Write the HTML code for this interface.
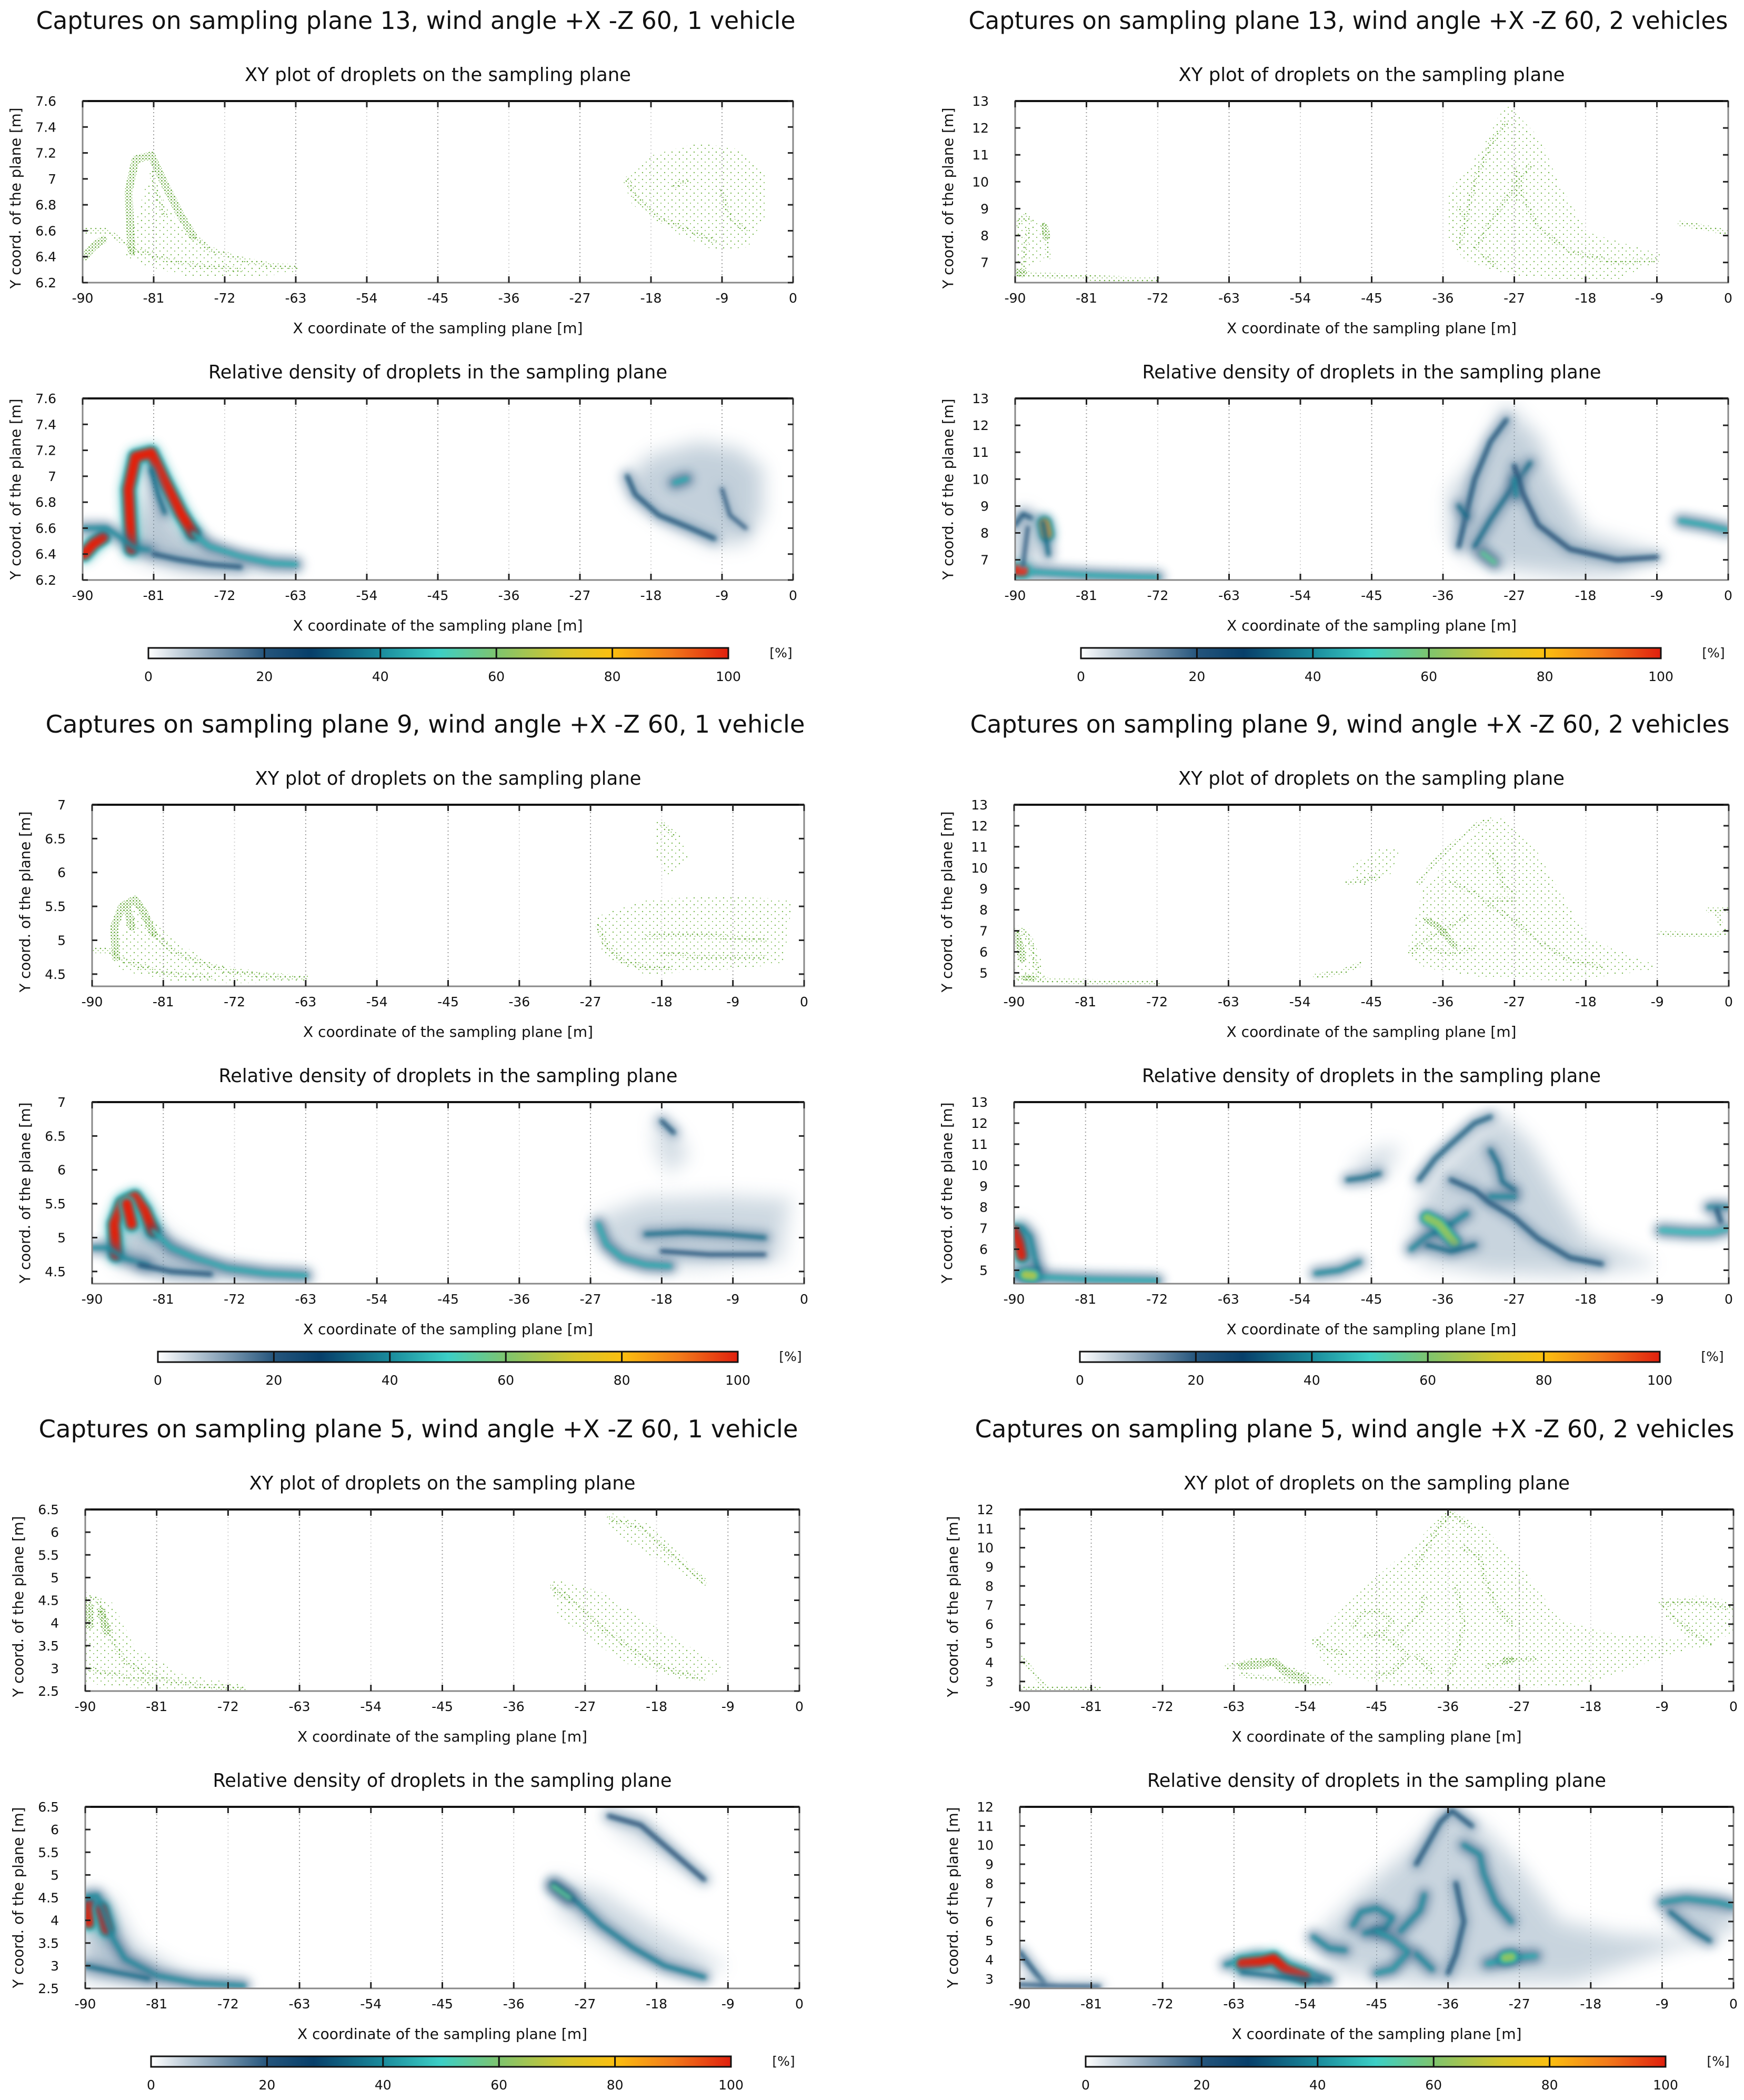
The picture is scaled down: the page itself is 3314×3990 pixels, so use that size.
<!DOCTYPE html>
<html><head><meta charset="utf-8"><title>Droplet captures</title>
<style>
html,body{margin:0;padding:0;background:#fff}
svg{display:block}
text{font-family:"DejaVu Sans","Liberation Sans",sans-serif;fill:#111}
</style></head>
<body>
<svg id="fig" xmlns="http://www.w3.org/2000/svg" width="3314" height="3990" viewBox="0 0 3314 3990">
<defs>
<pattern id="dotsDense" patternUnits="userSpaceOnUse" width="6" height="6"><circle cx="1.5" cy="1.5" r="1.4" fill="#5fa533"/><circle cx="4.5" cy="4.2" r="1" fill="#7ab850"/></pattern>
<pattern id="dotsMid" patternUnits="userSpaceOnUse" width="9" height="9"><circle cx="2" cy="2" r="1.3" fill="#66aa3a"/><circle cx="6.5" cy="6" r="1" fill="#86c060"/></pattern>
<pattern id="dotsSparse" patternUnits="userSpaceOnUse" width="14" height="13"><circle cx="3" cy="3" r="1.2" fill="#7ab850"/><circle cx="10" cy="9" r="1.1" fill="#8cc466"/></pattern>
<filter id="blurS" filterUnits="userSpaceOnUse" x="0" y="0" width="3314" height="3990"><feGaussianBlur stdDeviation="4"/></filter>
<filter id="blurM" filterUnits="userSpaceOnUse" x="0" y="0" width="3314" height="3990"><feGaussianBlur stdDeviation="9"/></filter>
<filter id="blurL" filterUnits="userSpaceOnUse" x="0" y="0" width="3314" height="3990"><feGaussianBlur stdDeviation="16"/></filter>
<linearGradient id="cmap" x1="0" x2="1" y1="0" y2="0">
<stop offset="0" stop-color="#ffffff"/><stop offset="0.2" stop-color="#25557c"/><stop offset="0.28" stop-color="#073f6a"/><stop offset="0.4" stop-color="#1a8b9c"/><stop offset="0.5" stop-color="#3ccfc6"/><stop offset="0.6" stop-color="#7ec46e"/><stop offset="0.72" stop-color="#d8c62a"/><stop offset="0.8" stop-color="#fbbf10"/><stop offset="0.9" stop-color="#f27a1a"/><stop offset="1" stop-color="#e0200e"/>
</linearGradient>
</defs>
</svg>
<script>
const xTicks = [-90,-81,-72,-63,-54,-45,-36,-27,-18,-9,0];
const cbTicks = [0,20,40,60,80,100];

const panelA_title = "Captures on sampling plane 13, wind angle +X -Z 60, 1 vehicle";
const panelA_yrange = [6.2, 7.6];
const panelA_yticks = [6.2,6.4,6.6,6.8,7,7.2,7.4,7.6];
const panelA_ylabels = ["6.2","6.4","6.6","6.8","7","7.2","7.4","7.6"];
const panelA_areas = [
 {lv:14, pts:[[-84,6.42],[-81.5,6.95],[-78,6.62],[-72,6.36],[-66,6.31],[-63,6.3],[-70,6.27],[-77,6.28],[-82,6.36]]},
 {lv:12, pts:[[-21,6.98],[-18,7.15],[-12,7.25],[-7,7.2],[-4,7.05],[-4,6.72],[-6,6.5],[-10,6.48],[-15,6.62],[-20,6.82]]}
];
const panelA_ridges = [
 {lv:100, pts:[[-83.8,6.44],[-84.2,6.9],[-83.3,7.15],[-81.3,7.18],[-79.6,6.96],[-77.6,6.72],[-76,6.56]]},
 {lv:45, pts:[[-76,6.56],[-74,6.46],[-70,6.38],[-66,6.33],[-63,6.32]]},
 {lv:100, pts:[[-89.8,6.4],[-88.6,6.48],[-87.4,6.53]]},
 {lv:40, pts:[[-90,6.6],[-87,6.6],[-85,6.52],[-83.5,6.45],[-81.5,6.43]]},
 {lv:35, pts:[[-81.3,7.05],[-80.4,6.85],[-79.6,6.72]]},
 {lv:30, pts:[[-81,6.4],[-78,6.36],[-74,6.32],[-70,6.3]]},
 {lv:30, pts:[[-21,7.0],[-20,6.86],[-17,6.7],[-13,6.6],[-10,6.52]]},
 {lv:45, pts:[[-15,6.95],[-13.5,6.98]]},
 {lv:20, pts:[[-9,6.9],[-8,6.7],[-6,6.6]]}
];

const panelB_title = "Captures on sampling plane 13, wind angle +X -Z 60, 2 vehicles";
const panelB_yrange = [6.25, 13];
const panelB_yticks = [7,8,9,10,11,12,13];
const panelB_ylabels = ["7","8","9","10","11","12","13"];
const panelB_areas = [
 {lv:12, pts:[[-35,9.5],[-31,11],[-28,12.7],[-24,11.5],[-22,10],[-18,8],[-9,7.2],[-14,6.5],[-20,6.45],[-28,6.7],[-33,7.2],[-35,8]]},
 {lv:12, pts:[[-90,8.4],[-89,8.8],[-87.5,8.5],[-86.8,7.2],[-88.5,6.9],[-90,7]]}
];
const panelB_ridges = [
 {lv:45, pts:[[-90,6.6],[-86,6.52],[-80,6.42],[-74,6.36],[-72,6.35]]},
 {lv:100, pts:[[-89.8,6.62],[-89,6.6]]},
 {lv:30, pts:[[-90,8.3],[-89,8.7],[-88,8.55]]},
 {lv:85, pts:[[-86.3,8.35],[-86,7.95]]},
 {lv:35, pts:[[-86.5,8.4],[-86,7.6],[-85.8,7.2]]},
 {lv:20, pts:[[-88.4,8.2],[-88.8,7.3],[-89,6.8]]},
 {lv:30, pts:[[-34,7.5],[-33,8.8],[-32,10],[-30,11.4],[-28,12.2]]},
 {lv:35, pts:[[-32,7.5],[-30,8.5],[-27,9.8],[-25,10.6]]},
 {lv:28, pts:[[-27,10.5],[-26,9.5],[-24,8.3],[-20,7.4],[-14,7.0],[-9,7.1]]},
 {lv:55, pts:[[-31,7.25],[-29.5,6.9]]},
 {lv:40, pts:[[-27,10],[-26.8,9.4]]},
 {lv:35, pts:[[-34,9],[-33,8.6]]},
 {lv:45, pts:[[-6,8.45],[-3,8.3],[0,8.1]]}
];

const panelC_title = "Captures on sampling plane 9, wind angle +X -Z 60, 1 vehicle";
const panelC_yrange = [4.32, 7];
const panelC_yticks = [4.5,5,5.5,6,6.5,7];
const panelC_ylabels = ["4.5","5","5.5","6","6.5","7"];
const panelC_areas = [
 {lv:14, pts:[[-87,4.8],[-84,5.5],[-81,5.05],[-75,4.6],[-68,4.47],[-63,4.44],[-72,4.42],[-80,4.45],[-86,4.6]]},
 {lv:10, pts:[[-26,5.3],[-20,5.55],[-10,5.6],[-2,5.55],[-3,4.7],[-12,4.6],[-20,4.55],[-25,4.8]]},
 {lv:10, pts:[[-18.5,6.75],[-16,6.5],[-15,6.2],[-17,6.0],[-18.5,6.3]]}
];
const panelC_ridges = [
 {lv:100, pts:[[-87,4.75],[-87.2,5.2],[-86.2,5.5],[-84.6,5.6],[-83.4,5.4],[-82.3,5.1]]},
 {lv:100, pts:[[-85.6,5.5],[-85,5.2]]},
 {lv:45, pts:[[-82.3,5.1],[-80,4.85],[-77,4.7],[-73,4.55],[-68,4.47],[-63,4.44]]},
 {lv:40, pts:[[-90,4.85],[-88,4.85],[-86,4.7],[-83,4.6]]},
 {lv:30, pts:[[-84,4.6],[-80,4.5],[-75,4.46]]},
 {lv:45, pts:[[-26,5.2],[-25,4.9],[-23,4.7],[-20,4.6],[-17,4.58]]},
 {lv:35, pts:[[-20,5.05],[-15,5.08],[-10,5.05],[-5,5.0]]},
 {lv:25, pts:[[-18,4.8],[-12,4.75],[-5,4.75]]},
 {lv:30, pts:[[-18,6.72],[-16.5,6.55]]}
];

const panelD_title = "Captures on sampling plane 9, wind angle +X -Z 60, 2 vehicles";
const panelD_yrange = [4.36, 13];
const panelD_yticks = [5,6,7,8,9,10,11,12,13];
const panelD_ylabels = ["5","6","7","8","9","10","11","12","13"];
const panelD_areas = [
 {lv:11, pts:[[-40,6],[-38,9],[-32,11.5],[-28.5,12.3],[-25,11],[-22,9],[-18,6.5],[-10,5.3],[-20,4.8],[-30,4.9],[-38,5.4]]},
 {lv:12, pts:[[-90,7.1],[-88.5,7],[-87,5.5],[-86.5,4.8],[-90,4.6]]},
 {lv:10, pts:[[-47,10],[-44,10.7],[-42,10.8],[-43,9.8],[-46,9.3]]}
];
const panelD_ridges = [
 {lv:100, pts:[[-89.8,6.85],[-89.3,6.3],[-89,5.7]]},
 {lv:40, pts:[[-89,7],[-88,6.6],[-87.4,5.6],[-87,5.0]]},
 {lv:45, pts:[[-90,4.8],[-86,4.66],[-80,4.56],[-72,4.5]]},
 {lv:65, pts:[[-88.6,4.78],[-87.6,4.74]]},
 {lv:40, pts:[[-52,4.85],[-49,5.0],[-46.5,5.4]]},
 {lv:35, pts:[[-48,9.3],[-46,9.4],[-44,9.6]]},
 {lv:32, pts:[[-39,9.3],[-37,10.3],[-35,11.0],[-32,12.0],[-30,12.3]]},
 {lv:40, pts:[[-40,6.0],[-38,6.6],[-35,7.2],[-33,7.7]]},
 {lv:62, pts:[[-38,7.5],[-36.5,7.2],[-35,6.5],[-34.5,6.3]]},
 {lv:35, pts:[[-38,6.2],[-35,5.9],[-32,6.2]]},
 {lv:35, pts:[[-30,10.7],[-29,10],[-28.5,9.2],[-27,8.8]]},
 {lv:30, pts:[[-35,9.3],[-32,8.8],[-30,8.2],[-27,7.5],[-24,6.5],[-20,5.6],[-16,5.3]]},
 {lv:40, pts:[[-30,8.5],[-27,8.5]]},
 {lv:48, pts:[[-8.5,6.9],[-5,6.8],[-2,6.8],[0,7.0]]},
 {lv:40, pts:[[-2.5,8.0],[0,8.0]]},
 {lv:30, pts:[[-1.5,7.9],[-1,7.3]]}
];

const panelE_title = "Captures on sampling plane 5, wind angle +X -Z 60, 1 vehicle";
const panelE_yrange = [2.5, 6.5];
const panelE_yticks = [2.5,3,3.5,4,4.5,5,5.5,6,6.5];
const panelE_ylabels = ["2.5","3","3.5","4","4.5","5","5.5","6","6.5"];
const panelE_areas = [
 {lv:15, pts:[[-90,4.6],[-87,4.4],[-84,3.4],[-78,2.8],[-70,2.55],[-80,2.58],[-90,2.75]]},
 {lv:10, pts:[[-31,4.9],[-25,4.6],[-18,3.8],[-10,3.0],[-14,2.8],[-22,3.2],[-30,4.2]]},
 {lv:8, pts:[[-24,6.35],[-19,6.1],[-14,5.2],[-12,4.9],[-17,5.4],[-23,6.0]]}
];
const panelE_ridges = [
 {lv:100, pts:[[-89.5,4.35],[-89.5,3.95]]},
 {lv:100, pts:[[-88,4.25],[-87.3,3.8]]},
 {lv:40, pts:[[-90,4.5],[-88.5,4.55],[-87.5,4.1],[-86.5,3.6],[-85,3.15],[-81,2.78],[-76,2.62],[-70,2.56]]},
 {lv:35, pts:[[-90,3.0],[-86,2.85],[-82,2.72]]},
 {lv:38, pts:[[-31,4.8],[-28,4.4],[-25,3.9],[-21,3.4],[-17,3.0],[-12,2.75]]},
 {lv:55, pts:[[-31,4.75],[-29,4.5]]},
 {lv:28, pts:[[-24,6.3],[-20,6.1],[-16,5.5],[-12,4.9]]}
];

const panelF_title = "Captures on sampling plane 5, wind angle +X -Z 60, 2 vehicles";
const panelF_yrange = [2.5, 12];
const panelF_yticks = [3,4,5,6,7,8,9,10,11,12];
const panelF_ylabels = ["3","4","5","6","7","8","9","10","11","12"];
const panelF_areas = [
 {lv:11, pts:[[-53,5],[-47,7.5],[-40,10],[-36,11.8],[-32,11],[-27,8.8],[-22,6],[-15,5.3],[-5,5],[-20,2.9],[-40,2.8],[-50,3.5]]},
 {lv:12, pts:[[-9,7.2],[-4,7.3],[0,7],[0,5.8],[-4,4.9],[-8,6.3]]}
];
const panelF_ridges = [
 {lv:30, pts:[[-90,4.4],[-88,3.3],[-87,2.8]]},
 {lv:22, pts:[[-90,2.7],[-85,2.62],[-80,2.6]]},
 {lv:40, pts:[[-64,3.75],[-60,4.15],[-55,3.5],[-51,2.95]]},
 {lv:100, pts:[[-62,3.8],[-59.5,3.9],[-58,4.05],[-56.5,3.5],[-54,3.1]]},
 {lv:35, pts:[[-62,3.35],[-57,3.1],[-52,2.9]]},
 {lv:40, pts:[[-53,5.2],[-51,4.6],[-49,4.5]]},
 {lv:40, pts:[[-48,5.8],[-47,6.5],[-45,6.7],[-43,6.2],[-44,5.6],[-46.5,5.4]]},
 {lv:42, pts:[[-45,5.5],[-43,5.1],[-41,4.4],[-43,3.5],[-45,3.3]]},
 {lv:30, pts:[[-40,9],[-37,11.2],[-35.5,11.8],[-33,11]]},
 {lv:40, pts:[[-39,7.4],[-39.5,6.6],[-42,5.5]]},
 {lv:40, pts:[[-34,10],[-32,9.5],[-31.5,8.5],[-30,7],[-28,6]]},
 {lv:30, pts:[[-35,8],[-34,6],[-35,4.3],[-36,3.3]]},
 {lv:40, pts:[[-38,3.5],[-40,4.3]]},
 {lv:45, pts:[[-31,3.8],[-28,4.1],[-25,4.2]]},
 {lv:62, pts:[[-28.8,4.1],[-28,4.15]]},
 {lv:42, pts:[[-9,7],[-6,7.2],[-2,7.0],[0,6.8]]},
 {lv:35, pts:[[-8,6.5],[-5,5.5],[-3,5.0]]}
];

const panels = [
 {id:"a", L:157, T:192, W:1350, title:panelA_title, yr:panelA_yrange, yt:panelA_yticks, yl:panelA_ylabels, areas:panelA_areas, ridges:panelA_ridges, tx:790},
 {id:"b", L:1929, T:192, W:1355, title:panelB_title, yr:panelB_yrange, yt:panelB_yticks, yl:panelB_ylabels, areas:panelB_areas, ridges:panelB_ridges, tx:2562},
 {id:"c", L:175, T:1529, W:1353, title:panelC_title, yr:panelC_yrange, yt:panelC_yticks, yl:panelC_ylabels, areas:panelC_areas, ridges:panelC_ridges, tx:808},
 {id:"d", L:1927, T:1529, W:1358, title:panelD_title, yr:panelD_yrange, yt:panelD_yticks, yl:panelD_ylabels, areas:panelD_areas, ridges:panelD_ridges, tx:2565},
 {id:"e", L:162, T:2868, W:1357, title:panelE_title, yr:panelE_yrange, yt:panelE_yticks, yl:panelE_ylabels, areas:panelE_areas, ridges:panelE_ridges, tx:795},
 {id:"f", L:1938, T:2868, W:1356, title:panelF_title, yr:panelF_yrange, yt:panelF_yticks, yl:panelF_ylabels, areas:panelF_areas, ridges:panelF_ridges, tx:2574}
];

const NS = "http://www.w3.org/2000/svg";
const svg = document.getElementById("fig");
const defs = svg.querySelector("defs");
const H = 345;

const cstops = [[0,[255,255,255]],[20,[37,85,124]],[28,[7,63,106]],[40,[26,139,156]],[50,[60,207,198]],[60,[126,196,110]],[72,[216,198,42]],[80,[251,191,16]],[90,[242,122,26]],[100,[224,32,14]]];
function cmap(v){
  v = Math.max(0, Math.min(100, v));
  for (let i=1;i<cstops.length;i++){
    if (v <= cstops[i][0]){
      const a=cstops[i-1], b=cstops[i], t=(v-a[0])/(b[0]-a[0]);
      const c=a[1].map((q,k)=>Math.round(q+(b[1][k]-q)*t));
      return "rgb("+c.join(",")+")";
    }
  }
  return "rgb(224,32,14)";
}
function mk(tag, attrs, parent){
  const e = document.createElementNS(NS, tag);
  for (const k in attrs) e.setAttribute(k, attrs[k]);
  (parent||svg).appendChild(e);
  return e;
}
function txt(s, x, y, size, anchor, parent, len){
  const t = mk("text", {x:x, y:y, "font-size":size, "text-anchor":anchor||"middle"}, parent);
  if (len){ t.setAttribute("textLength", len); t.setAttribute("lengthAdjust", "spacingAndGlyphs"); }
  t.textContent = s;
  return t;
}

function drawAxes(p, top, kind, g){
  const sx = x => p.L + (x + 90) / 90 * p.W;
  const sy = y => top + (p.yr[1] - y) / (p.yr[1] - p.yr[0]) * H;
  xTicks.forEach((v,i) => {
    if (i===0 || i===xTicks.length-1) return;
    const ln = mk("line", {x1:sx(v), x2:sx(v), y1:top, y2:top+H, stroke: i%2 ? "#9a9a9a" : "#d0d0d0", "stroke-width":2, "stroke-dasharray":"2 5"}, g);
    
    
  });
  return {sx, sy};
}

function frame(p, top, kind, g){
  const sx = x => p.L + (x + 90) / 90 * p.W;
  const sy = y => top + (p.yr[1] - y) / (p.yr[1] - p.yr[0]) * H;
  const fr = mk("rect", {x:p.L, y:top, width:p.W, height:H, fill:"none", stroke:"#888", "stroke-width":3}, g);
  
  
  mk("line", {x1:p.L, x2:p.L+p.W, y1:top, y2:top, stroke:"#111", "stroke-width":4}, g);
  xTicks.forEach(v => {
    mk("line", {x1:sx(v), x2:sx(v), y1:top+H, y2:top+H-12, stroke:"#222", "stroke-width":3}, g);
    mk("line", {x1:sx(v), x2:sx(v), y1:top, y2:top+12, stroke:"#222", "stroke-width":3}, g);
    const t = txt(String(v), sx(v), top+H+38, 25, "middle", g);
    
    
  });
  p.yt.forEach((v,i) => {
    mk("line", {x1:p.L, x2:p.L+10, y1:sy(v), y2:sy(v), stroke:"#222", "stroke-width":3}, g);
    mk("line", {x1:p.L+p.W, x2:p.L+p.W-10, y1:sy(v), y2:sy(v), stroke:"#222", "stroke-width":3}, g);
    const t = txt(p.yl[i], p.L-50, sy(v)+9, 25, "end", g);
    
    
  });
  const xt = txt("X coordinate of the sampling plane [m]", p.L + p.W/2, top+H+96, 28, "middle", g, 551);
  
  
  const cy = top + H/2 + (kind==="scatter" ? 12 : 0);
  const yt = txt("Y coord. of the plane [m]", 0, 0, 28, "middle", g, 344);
  yt.setAttribute("transform", "translate(" + (p.L-118) + "," + cy + ") rotate(-90)");
  
  
}

function clip(id, p, top){
  const cp = mk("clipPath", {id:id}, defs);
  mk("rect", {x:p.L, y:top, width:p.W, height:H}, cp);
  return "url(#" + id + ")";
}

panels.forEach(p => {
  const grp = mk("g", {});
  
  

  const mt = txt(p.title, p.tx, p.T-137, 46, "middle", grp, 1443);
  
  

  // ---- scatter plot ----
  const sT = p.T;
  const sg = mk("g", {}, grp);
  
  
  const st = txt("XY plot of droplets on the sampling plane", p.L + p.W/2, sT-38, 36, "middle", sg, 734);
  
  
  const ax1 = drawAxes(p, sT, "scatter", sg);
  const cg1 = mk("g", {"clip-path": clip("cs"+p.id, p, sT)}, sg);
  p.areas.forEach(a => {
    const poly = mk("polygon", {points: a.pts.map(q => ax1.sx(q[0]).toFixed(1)+","+ax1.sy(q[1]).toFixed(1)).join(" "), fill:"url(#dotsSparse)", stroke:"url(#dotsSparse)", "stroke-width":14, "stroke-linejoin":"round"}, cg1);
    
    
  });
  p.ridges.forEach(r => {
    const pl = mk("polyline", {points: r.pts.map(q => ax1.sx(q[0]).toFixed(1)+","+ax1.sy(q[1]).toFixed(1)).join(" "), fill:"none", stroke: r.lv>=60 ? "url(#dotsDense)" : "url(#dotsMid)", "stroke-width": 7 + r.lv*0.08, "stroke-linejoin":"round", "stroke-linecap":"round"}, cg1);
    
    
  });
  frame(p, sT, "scatter", sg);

  // ---- density plot ----
  const dT = p.T + 565;
  const dg = mk("g", {}, grp);
  
  
  const dt = txt("Relative density of droplets in the sampling plane", p.L + p.W/2, dT-38, 36, "middle", dg, 872);
  
  
  const ax2 = drawAxes(p, dT, "density", dg);
  const cg2 = mk("g", {"clip-path": clip("cd"+p.id, p, dT)}, dg);
  p.areas.forEach(a => {
    const poly = mk("polygon", {points: a.pts.map(q => ax2.sx(q[0]).toFixed(1)+","+ax2.sy(q[1]).toFixed(1)).join(" "), fill:cmap(a.lv), stroke:cmap(a.lv*0.6), "stroke-width":18, "stroke-linejoin":"round", filter:"url(#blurL)", opacity:0.45}, cg2);
    
    
  });
  p.ridges.forEach(r => {
    const pts = r.pts.map(q => ax2.sx(q[0]).toFixed(1)+","+ax2.sy(q[1]).toFixed(1)).join(" ");
    const halo = mk("polyline", {points:pts, fill:"none", stroke:cmap(Math.min(r.lv,100)*0.45), "stroke-width": 20 + r.lv*0.15, "stroke-linejoin":"round", "stroke-linecap":"round", filter:"url(#blurM)", opacity:0.6}, cg2);
    
    
    if (r.lv >= 60){
      const mid = mk("polyline", {points:pts, fill:"none", stroke:cmap(45), "stroke-width": 18 + r.lv*0.12, "stroke-linejoin":"round", "stroke-linecap":"round", filter:"url(#blurS)"}, cg2);
      
      
    }
    const core = mk("polyline", {points:pts, fill:"none", stroke:cmap(r.lv), "stroke-width": r.lv>=60 ? 11 + r.lv*0.08 : 6 + r.lv*0.06, "stroke-linejoin":"round", "stroke-linecap":"round", filter:"url(#blurS)", opacity: r.lv>=60 ? 1 : 0.85}, cg2);
    
    
  });
  frame(p, dT, "density", dg);

  // ---- colorbar ----
  const cT = p.T + 1039, cL = p.L + 125, cW = 1102;
  const cbg = mk("g", {}, grp);
  
  
  const bar = mk("rect", {x:cL, y:cT, width:cW, height:20, fill:"url(#cmap)", stroke:"#111", "stroke-width":3}, cbg);
  
  
  cbTicks.forEach(v => {
    const x = cL + v/100*cW;
    if (v>0 && v<100) mk("line", {x1:x, x2:x, y1:cT, y2:cT+20, stroke:"#111", "stroke-width":3}, cbg);
    const t = txt(String(v), x, cT+63, 25, "middle", cbg);
    
    
  });
  const unit = txt("[%]", cL + cW + 100, cT+18, 25, "middle", cbg);
  
  
});
</script>
</body></html>
